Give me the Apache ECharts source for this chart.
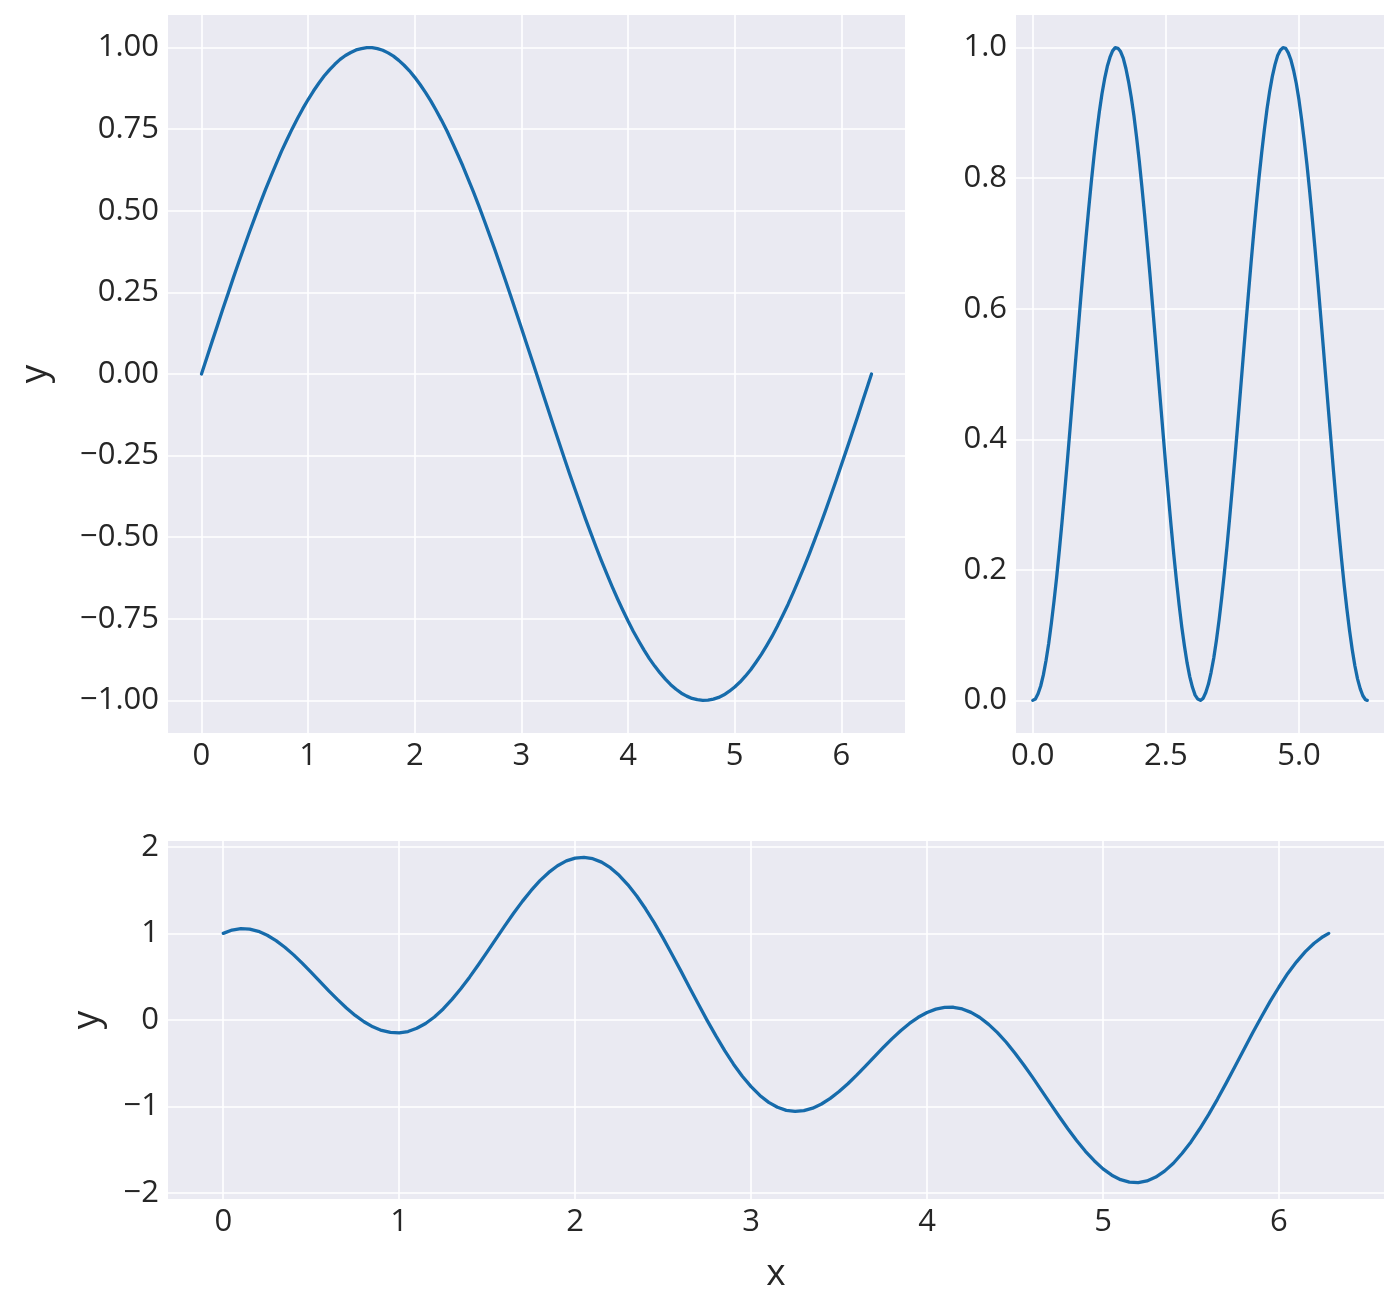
<!DOCTYPE html>
<html>
<head>
<meta charset="utf-8">
<script src="https://cdn.jsdelivr.net/npm/echarts@6/dist/echarts.min.js"></script>
<style>
html,body{margin:0;padding:0;background:#fff;}
#c{width:1400px;height:1314px;}
</style>
</head>
<body>
<div id="c"></div>
<script>
// x samples (0 .. 2π, step 0.05)
const xs = [0,0.05,0.1,0.15,0.2,0.25,0.3,0.35,0.4,0.45,0.5,0.55,0.6,0.65,0.7,0.75,0.8,0.85,0.9,0.95,
  1.0,1.05,1.1,1.15,1.2,1.25,1.3,1.35,1.4,1.45,1.5,1.55,1.6,1.65,1.7,1.75,1.8,1.85,1.9,1.95,
  2.0,2.05,2.1,2.15,2.2,2.25,2.3,2.35,2.4,2.45,2.5,2.55,2.6,2.65,2.7,2.75,2.8,2.85,2.9,2.95,
  3.0,3.05,3.1,3.15,3.2,3.25,3.3,3.35,3.4,3.45,3.5,3.55,3.6,3.65,3.7,3.75,3.8,3.85,3.9,3.95,
  4.0,4.05,4.1,4.15,4.2,4.25,4.3,4.35,4.4,4.45,4.5,4.55,4.6,4.65,4.7,4.75,4.8,4.85,4.9,4.95,
  5.0,5.05,5.1,5.15,5.2,5.25,5.3,5.35,5.4,5.45,5.5,5.55,5.6,5.65,5.7,5.75,5.8,5.85,5.9,5.95,
  6.0,6.05,6.1,6.15,6.2,6.25,6.283];
// top-left panel
const ySin = [0.000,0.050,0.100,0.149,0.199,0.247,0.296,0.343,0.389,0.435,0.479,0.523,0.565,0.605,0.644,0.682,0.717,0.751,0.783,0.813,
  0.841,0.867,0.891,0.913,0.932,0.949,0.964,0.976,0.985,0.993,0.997,1.000,1.000,0.997,0.992,0.984,0.974,0.961,0.946,0.929,
  0.909,0.887,0.863,0.837,0.808,0.778,0.746,0.711,0.675,0.638,0.598,0.558,0.516,0.472,0.427,0.382,0.335,0.287,0.239,0.190,
  0.141,0.091,0.042,-0.008,-0.058,-0.108,-0.158,-0.207,-0.256,-0.304,-0.351,-0.397,-0.443,-0.487,-0.530,-0.572,-0.612,-0.651,-0.688,-0.723,
  -0.757,-0.789,-0.818,-0.846,-0.872,-0.895,-0.916,-0.935,-0.952,-0.966,-0.978,-0.987,-0.994,-0.998,-1.000,-0.999,-0.996,-0.991,-0.983,-0.972,
  -0.959,-0.944,-0.926,-0.906,-0.883,-0.859,-0.832,-0.804,-0.773,-0.740,-0.706,-0.669,-0.631,-0.592,-0.551,-0.508,-0.465,-0.420,-0.374,-0.327,
  -0.279,-0.231,-0.182,-0.133,-0.083,-0.033,0.000];
// top-right panel
const ySq = [0.000,0.002,0.010,0.022,0.039,0.061,0.087,0.118,0.152,0.189,0.230,0.273,0.319,0.366,0.415,0.465,0.515,0.564,0.614,0.662,
  0.708,0.752,0.794,0.833,0.869,0.901,0.929,0.952,0.971,0.985,0.995,1.000,0.999,0.994,0.984,0.968,0.948,0.924,0.896,0.863,
  0.827,0.787,0.745,0.700,0.654,0.605,0.556,0.506,0.456,0.407,0.358,0.311,0.266,0.223,0.183,0.146,0.112,0.083,0.057,0.036,
  0.020,0.008,0.002,0.000,0.003,0.012,0.025,0.043,0.065,0.092,0.123,0.158,0.196,0.237,0.281,0.327,0.374,0.423,0.473,0.523,
  0.573,0.622,0.670,0.716,0.760,0.801,0.839,0.874,0.906,0.933,0.956,0.974,0.988,0.996,1.000,0.999,0.992,0.981,0.965,0.945,
  0.920,0.890,0.857,0.821,0.781,0.738,0.693,0.646,0.597,0.548,0.498,0.448,0.399,0.350,0.303,0.258,0.216,0.176,0.140,0.107,
  0.078,0.053,0.033,0.018,0.007,0.001,0.000];
// bottom panel
const yMix = [1.000,1.039,1.055,1.050,1.024,0.979,0.917,0.840,0.752,0.654,0.550,0.444,0.337,0.235,0.139,0.053,-0.020,-0.079,-0.121,-0.144,
  -0.149,-0.133,-0.096,-0.040,0.035,0.128,0.238,0.361,0.495,0.638,0.787,0.937,1.087,1.232,1.370,1.496,1.609,1.704,1.781,1.837,
  1.870,1.879,1.863,1.823,1.759,1.671,1.561,1.432,1.284,1.121,0.945,0.760,0.570,0.376,0.185,-0.004,-0.184,-0.354,-0.510,-0.649,
  -0.770,-0.871,-0.951,-1.008,-1.043,-1.056,-1.047,-1.018,-0.970,-0.905,-0.826,-0.736,-0.637,-0.532,-0.426,-0.320,-0.218,-0.124,-0.040,0.031,
  0.087,0.126,0.146,0.147,0.128,0.088,0.029,-0.050,-0.146,-0.257,-0.383,-0.519,-0.663,-0.812,-0.963,-1.112,-1.256,-1.392,-1.516,-1.625,
  -1.719,-1.792,-1.844,-1.872,-1.878,-1.858,-1.814,-1.745,-1.654,-1.539,-1.408,-1.256,-1.092,-0.916,-0.729,-0.537,-0.344,-0.151,0.035,0.215,
  0.381,0.538,0.672,0.789,0.886,0.962,1.000];
// ticks
const xTicks1 = [0,1,2,3,4,5,6];
const yTicks1 = [-1,-0.75,-0.5,-0.25,0,0.25,0.5,0.75,1];
const xTicks2 = [0,2.5,5];
const yTicks2 = [0,0.2,0.4,0.6,0.8,1.0];
const xTicks3 = [0,1,2,3,4,5,6];
const yTicks3 = [-2,-1,0,1,2];

const FONT = '"Open Sans", "DejaVu Sans", sans-serif';
const TXT = '#262626';
const LINE = '#166bab';
const fmt = d => v => (v < 0 ? '\u2212' : '') + Math.abs(v).toFixed(d);
const pair = ys => xs.map((x, i) => [x, ys[i]]);

function xAxis(gi, ticks, d, name) {
  const a = {
    type: 'value', gridIndex: gi, min: -0.314, max: 6.597,
    axisLine: {show: false},
    axisTick: {show: false, customValues: ticks},
    axisLabel: {customValues: ticks, formatter: fmt(d), fontSize: 31, color: TXT, fontFamily: FONT, margin: 8},
    splitLine: {show: true, lineStyle: {color: '#ffffff', width: 1.6}}
  };
  if (name) {
    Object.assign(a, {name: name, nameLocation: 'middle', nameGap: 57,
      nameTextStyle: {fontSize: 37, color: TXT, fontFamily: FONT}});
  }
  return a;
}
function yAxis(gi, mn, mx, ticks, d, name, gap) {
  const a = {
    type: 'value', gridIndex: gi, min: mn, max: mx,
    axisLine: {show: false},
    axisTick: {show: false, customValues: ticks},
    axisLabel: {customValues: ticks, formatter: fmt(d), fontSize: 31, color: TXT, fontFamily: FONT, margin: 9},
    splitLine: {show: true, lineStyle: {color: '#ffffff', width: 1.6}}
  };
  if (name) {
    Object.assign(a, {name: name, nameLocation: 'middle', nameGap: gap, nameRotate: 90,
      nameTextStyle: {fontSize: 37, color: TXT, fontFamily: FONT}});
  }
  return a;
}

const chart = echarts.init(document.getElementById('c'), null, {renderer: 'canvas'});
const gridStyle = {show: true, backgroundColor: '#eaeaf2', borderWidth: 0, containLabel: false};
const lineSeries = (i, ys) => ({type: 'line', xAxisIndex: i, yAxisIndex: i, data: pair(ys), smooth: false,
  showSymbol: false, lineStyle: {color: LINE, width: 3.3, join: 'round', cap: 'round'}});
chart.setOption({
  animation: false,
  grid: [
    Object.assign({left: 168, top: 15, width: 737, height: 718}, gridStyle),
    Object.assign({left: 1016, top: 15, width: 368, height: 718}, gridStyle),
    Object.assign({left: 168, top: 841, width: 1216, height: 358}, gridStyle)
  ],
  xAxis: [
    xAxis(0, xTicks1, 0),
    xAxis(1, xTicks2, 1),
    xAxis(2, xTicks3, 0, 'x')
  ],
  yAxis: [
    yAxis(0, -1.1, 1.1, yTicks1, 2, 'y', 114),
    yAxis(1, -0.05, 1.05, yTicks2, 1),
    yAxis(2, -2.067, 2.067, yTicks3, 0, 'y', 62)
  ],
  series: [
    lineSeries(0, ySin),
    lineSeries(1, ySq),
    lineSeries(2, yMix)
  ]
});
</script>
</body>
</html>
